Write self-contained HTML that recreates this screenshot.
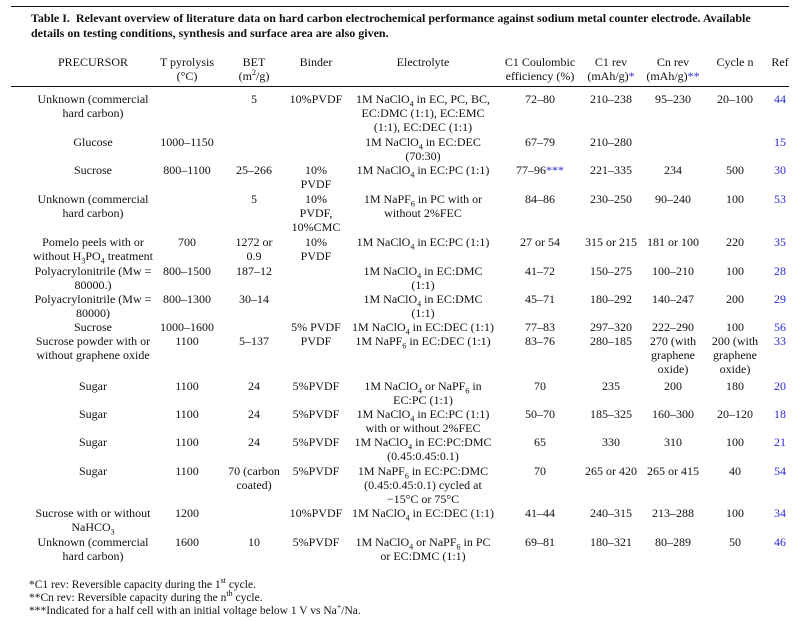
<!DOCTYPE html>
<html><head><meta charset="utf-8">
<style>
html,body{margin:0;padding:0;background:#fff;}
body{width:800px;height:621px;position:relative;overflow:hidden;font-family:"Liberation Serif",serif;color:#111;}
.t{position:absolute;white-space:nowrap;font-size:12px;line-height:14px;transform:translate(-50%,-50%);text-align:center;}
.title{position:absolute;left:31px;font-weight:bold;font-size:12px;white-space:nowrap;}
.rule{position:absolute;background:#111;height:1.3px;}
.blue{color:#2b2bd6;}
sub,sup{font-size:8px;line-height:0;}
.fn{position:absolute;left:29px;font-size:11.5px;white-space:nowrap;transform:translateY(-50%);}
</style></head>
<body>
<div class="rule" style="left:11px;width:778px;top:6px;"></div>
<div class="title" style="top:11px;">Table I.&nbsp; Relevant overview of literature data on hard carbon electrochemical performance against sodium metal counter electrode. Available</div>
<div class="title" style="top:26px;">details on testing conditions, synthesis and surface area are also given.</div>
<div class="rule" style="left:11px;width:778px;top:86px;"></div>
<div id="tbl"></div>
<div class="fn" style="top:585px;">*C1 rev: Reversible capacity during the 1<sup>st</sup> cycle.</div>
<div class="fn" style="top:598px;">**Cn rev: Reversible capacity during the n<sup>th</sup> cycle.</div>
<div class="fn" style="top:611px;">***Indicated for a half cell with an initial voltage below 1 V vs Na<sup>+</sup>/Na.</div>
<script>
const colX=[93,187,254,316,423,540,611,673,735,780];
const colNames=['precursor','t-pyrolysis','bet','binder','electrolyte','c1-coulombic','c1-rev','cn-rev','cycle-n','ref'];
const LH=14;
const C='NaClO<sub>4</sub>', P='NaPF<sub>6</sub>';
const header=[62,['PRECURSOR'],['T pyrolysis','(°C)'],['BET','(m<sup>2</sup>/g)'],['Binder'],['Electrolyte'],['C1 Coulombic','efficiency (%)'],['C1 rev','(mAh/g)<span class="blue">*</span>'],['Cn rev','(mAh/g)<span class="blue">**</span>'],['Cycle n'],['Ref']];
const rows=[
[99,['Unknown (commercial','hard carbon)'],[],['5'],['10%PVDF'],['1M '+C+' in EC, PC, BC,','EC:DMC (1:1), EC:EMC','(1:1), EC:DEC (1:1)'],['72–80'],['210–238'],['95–230'],['20–100'],['44']],
[142,['Glucose'],['1000–1150'],[],[],['1M '+C+' in EC:DEC','(70:30)'],['67–79'],['210–280'],[],[],['15']],
[170,['Sucrose'],['800–1100'],['25–266'],['10%','PVDF'],['1M '+C+' in EC:PC (1:1)'],['77–96<span class="blue">***</span>'],['221–335'],['234'],['500'],['30']],
[199,['Unknown (commercial','hard carbon)'],[],['5'],['10%','PVDF,','10%CMC'],['1M '+P+' in PC with or','without 2%FEC'],['84–86'],['230–250'],['90–240'],['100'],['53']],
[242,['Pomelo peels with or','without H<sub>3</sub>PO<sub>4</sub> treatment'],['700'],['1272 or','0.9'],['10%','PVDF'],['1M '+C+' in EC:PC (1:1)'],['27 or 54'],['315 or 215'],['181 or 100'],['220'],['35']],
[271,['Polyacrylonitrile (Mw =','80000.)'],['800–1500'],['187–12'],[],['1M '+C+' in EC:DMC','(1:1)'],['41–72'],['150–275'],['100–210'],['100'],['28']],
[299,['Polyacrylonitrile (Mw =','80000)'],['800–1300'],['30–14'],[],['1M '+C+' in EC:DMC','(1:1)'],['45–71'],['180–292'],['140–247'],['200'],['29']],
[327,['Sucrose'],['1000–1600'],[],['5% PVDF'],['1M '+C+' in EC:DEC (1:1)'],['77–83'],['297–320'],['222–290'],['100'],['56']],
[341,['Sucrose powder with or','without graphene oxide'],['1100'],['5–137'],['PVDF'],['1M '+P+' in EC:DEC (1:1)'],['83–76'],['280–185'],['270 (with','graphene','oxide)'],['200 (with','graphene','oxide)'],['33']],
[386,['Sugar'],['1100'],['24'],['5%PVDF'],['1M '+C+' or '+P+' in','EC:PC (1:1)'],['70'],['235'],['200'],['180'],['20']],
[414,['Sugar'],['1100'],['24'],['5%PVDF'],['1M '+C+' in EC:PC (1:1)','with or without 2%FEC'],['50–70'],['185–325'],['160–300'],['20–120'],['18']],
[442,['Sugar'],['1100'],['24'],['5%PVDF'],['1M '+C+' in EC:PC:DMC','(0.45:0.45:0.1)'],['65'],['330'],['310'],['100'],['21']],
[471,['Sugar'],['1100'],['70 (carbon','coated)'],['5%PVDF'],['1M '+P+' in EC:PC:DMC','(0.45:0.45:0.1) cycled at','−15°C or 75°C'],['70'],['265 or 420'],['265 or 415'],['40'],['54']],
[513,['Sucrose with or without','NaHCO<sub>3</sub>'],['1200'],[],['10%PVDF'],['1M '+C+' in EC:DEC (1:1)'],['41–44'],['240–315'],['213–288'],['100'],['34']],
[542,['Unknown (commercial','hard carbon)'],['1600'],['10'],['5%PVDF'],['1M '+C+' or '+P+' in PC','or EC:DMC (1:1)'],['69–81'],['180–321'],['80–289'],['50'],['46']]
];
const tbl=document.getElementById('tbl');
function put(row,ri,isHeader){
  const y0=row[0];
  for(let c=0;c<10;c++){
    const lines=row[c+1];
    lines.forEach((ln,li)=>{
      const d=document.createElement('div');
      d.className='t'+(c===9&&!isHeader?' blue':'');
      d.style.left=colX[c]+'px';
      d.style.top=(y0+li*LH)+'px';
      d.innerHTML=ln;
      
      
      tbl.appendChild(d);
    });
  }
}
put(header,0,true);
rows.forEach((r,i)=>put(r,i+1,false));
</script>
</body></html>
